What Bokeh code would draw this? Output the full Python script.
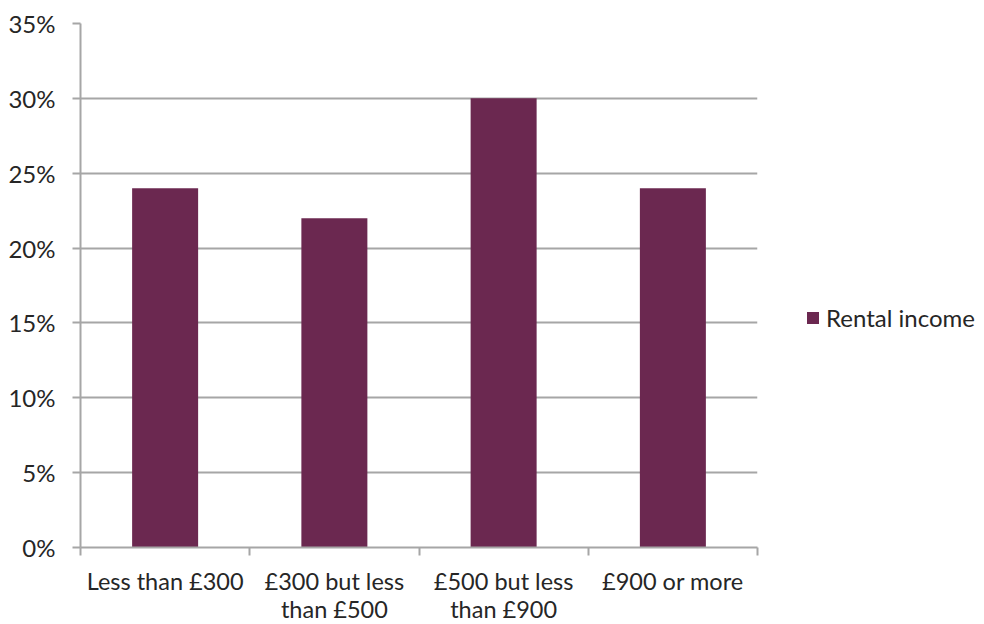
from bokeh.plotting import figure
from bokeh.models import FixedTicker, NumeralTickFormatter, Legend, LegendItem, Range1d, ColumnDataSource
from bokeh.embed import file_html
from bokeh.resources import INLINE

categories = ["Less than £300", "£300 but less\nthan £500", "£500 but less\nthan £900", "£900 or more"]
values = [0.24, 0.22, 0.30, 0.24]
series_name = "Rental income"
y_ticks = [0, 0.05, 0.10, 0.15, 0.20, 0.25, 0.30, 0.35]

FONT = "Lato"
BAR = "#6B2850"
GRID = "#A6A6A6"
TXT = "#262626"

xs = [i + 0.5 for i in range(len(categories))]
src = ColumnDataSource(dict(x=xs, top=values))

p = figure(width=968, height=608, frame_width=677, frame_height=524,
           output_backend="svg", toolbar_location=None,
           x_range=Range1d(0, len(categories)), y_range=Range1d(0, 0.35),
           min_border_left=80, min_border_top=23, min_border_right=0, min_border_bottom=0)
p.outline_line_color = None

r = p.vbar(x="x", top="top", width=0.39, source=src, fill_color=BAR, line_color=None)

p.xaxis.ticker = FixedTicker(ticks=xs, minor_ticks=list(range(len(categories) + 1)))
p.xaxis.major_label_overrides = {x: c for x, c in zip(xs, categories)}
p.xaxis.major_tick_out = 0
p.xaxis.major_tick_in = 0
p.xaxis.minor_tick_out = 8
p.xaxis.minor_tick_in = 0
p.xaxis.minor_tick_line_color = GRID
p.xaxis.minor_tick_line_width = 2
p.xaxis.axis_line_color = GRID
p.xaxis.axis_line_width = 2
p.xaxis.major_label_text_font = FONT
p.xaxis.major_label_text_font_size = "23.5px"
p.xaxis.major_label_text_color = TXT
p.xaxis.major_label_text_line_height = 1.0
p.xaxis.major_label_standoff = 11

p.yaxis.ticker = FixedTicker(ticks=y_ticks)
p.yaxis.formatter = NumeralTickFormatter(format="0%")
p.yaxis.major_tick_out = 8
p.yaxis.major_tick_in = 0
p.yaxis.minor_tick_line_color = None
p.yaxis.major_tick_line_color = GRID
p.yaxis.major_tick_line_width = 2
p.yaxis.axis_line_color = GRID
p.yaxis.axis_line_width = 2
p.yaxis.major_label_text_font = FONT
p.yaxis.major_label_text_font_size = "24px"
p.yaxis.major_label_text_color = TXT
p.yaxis.major_label_standoff = 17

p.xgrid.grid_line_color = None
p.ygrid.grid_line_color = GRID
p.ygrid.grid_line_width = 2

legend = Legend(items=[LegendItem(label=series_name, renderers=[r])], location=(48, 215),
                border_line_color=None, background_fill_alpha=0, label_text_font=FONT,
                label_text_font_size="24px",
                label_text_color=TXT, glyph_width=15, glyph_height=15,
                margin=0, padding=0, label_standoff=6)
p.add_layout(legend, "right")

open("out.html", "w").write(file_html(p, INLINE))
